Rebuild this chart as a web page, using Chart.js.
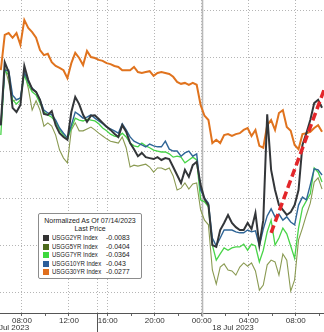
<!DOCTYPE html>
<html>
<head>
<meta charset="utf-8">
<script src="https://cdn.jsdelivr.net/npm/chart.js@4.4.0/dist/chart.umd.min.js"></script>
<style>
  html, body { margin:0; padding:0; background:#fff; overflow:hidden; }
  #wrap { position:relative; width:324px; height:332px; }
  #legend { position:absolute; left:38px; top:213px; width:102px; height:64px; border:1px solid #8c8c8c; border-radius:2px;
            background:#fff; font:7px "Liberation Sans", Arial, sans-serif; color:#222; }
  #legend .t { text-align:center; line-height:8px; white-space:nowrap; }
  #legend .row { position:relative; height:8.5px; line-height:8.5px; white-space:nowrap; }
  #legend .sw { position:absolute; left:4px; top:1px; width:6px; height:6px; }
  #legend .nm { position:absolute; left:13px; transform:scaleX(0.86); transform-origin:0 50%; }
  #legend .vl { position:absolute; left:67px; }
</style>
</head>
<body>
<div id="wrap">
  <canvas id="c" width="324" height="332"></canvas>
  <div id="legend"></div>
</div>
<script>
// yield change in bp, one sample every 20 min of trading time starting 06:12
const startHour = 6.2, stepHour = 1 / 3;

const names = ["USGG2YR Index", "USGG5YR Index", "USGG7YR Index", "USGG10YR Index", "USGG30YR Index"];
const lastPrice = ["-0.0083", "-0.0404", "-0.0364", "-0.043", "-0.0277"];
const legendTitle = ["Normalized As Of 07/14/2023", "Last Price"];

const usgg2 = [-4.3, 9.1, 7.0, -0.6, -1.5, 0, 8.3, 5.3, 3.4, 2.8,
  1.1, -1.9, -2.1, -1.3, -4.3, -6.0, -6.8, -7.4, -1.5, 1.7,
  0.2, -2.1, -3.6, -2.3, -2.2, -3.0, -3.8, -4.6, -5.3, -6.1,
  -6.8, -4.3, -5.7, -8.1, -9.4, -10.9, -10.2, -11.1, -11.3, -11.5,
  -11.1, -11.7, -11.3, -11.5, -13.2, -14.9, -16.6, -13.8, -15.3, -12.8,
  -12.1, -17.0, -20.0, -21.3, -29.8, -30.2, -26.6, -25.1, -23.4, -25.1,
  -26.0, -26.6, -26.6, -25.1, -26.4, -23.0, -29.8, -24.5, -2.0, -13.8,
  -18.1, -21.3, -22.3, -23.4, -22.8, -21.3, -18.1, -8.5, -6.0, -3.2,
  0.4, 1.1, -0.6];
const usgg5 = [-4.3, 8.1, 4.9, 0.9, 1.1, 1.5, 7.0, 3.6, -1.1, 0.9,
  -1.1, -4.5, -3.8, -4.5, -6.4, -9.6, -11.3, -12.3, -5.3, -3.8,
  -5.5, -5.5, -5.1, -4.7, -5.3, -6.0, -6.6, -7.2, -7.7, -7.9,
  -8.1, -6.8, -9.1, -13.2, -12.8, -13.0, -12.8, -12.6, -13.2, -14.3,
  -13.4, -13.4, -13.8, -13.4, -15.1, -18.1, -17.7, -16.6, -17.9, -16.8,
  -16.6, -22.3, -24.5, -25.5, -35.1, -38.1, -34.5, -33.8, -35.1, -35.3,
  -36.2, -34.5, -33.6, -34.3, -33.6, -35.3, -39.4, -38.3, -34.0, -33.0,
  -33.4, -36.2, -31.7, -33.0, -39.6, -37.2, -28.7, -26.2, -23.4, -20.9,
  -16.4, -15.5, -17.9];
const usgg7 = [-6.4, 7.4, 6.4, 1.1, 0.2, 1.1, 6.4, 4.3, 2.8, 2.1,
  0.4, -1.5, -2.1, -2.6, -3.6, -5.3, -6.4, -7.4, -4.9, -2.8,
  -3.2, -3.4, -3.0, -3.2, -3.4, -4.0, -4.9, -5.5, -6.2, -6.6,
  -6.8, -6.0, -6.8, -8.1, -8.7, -8.9, -8.1, -8.7, -9.1, -9.6,
  -9.8, -10.0, -10.0, -10.4, -11.1, -10.9, -11.1, -12.3, -11.7, -11.1,
  -11.7, -20.2, -20.6, -21.7, -29.8, -33.0, -31.7, -30.4, -30.9, -30.4,
  -30.2, -30.2, -29.6, -30.9, -29.6, -30.0, -33.4, -30.9, -27.0, -24.5,
  -29.8, -28.3, -26.2, -27.4, -30.0, -32.6, -26.2, -21.9, -20.4, -18.9,
  -13.4, -14.3, -16.4];
const usgg10 = [-4.3, 7.4, 7.4, 2.1, 1.1, 1.5, 7.0, 4.9, 3.6, 2.8,
  1.1, -1.1, -1.7, -2.1, -3.2, -4.9, -6.0, -7.0, -4.3, -1.5,
  -2.1, -2.8, -2.6, -2.1, -2.8, -3.4, -4.0, -4.7, -5.1, -5.5,
  -6.0, -4.0, -5.3, -6.8, -7.7, -8.1, -8.5, -8.9, -8.3, -8.7,
  -8.9, -8.9, -7.7, -9.4, -9.8, -9.8, -10.9, -10.2, -9.8, -10.9,
  -10.4, -18.1, -19.8, -20.9, -28.3, -30.0, -28.3, -26.6, -26.6, -26.6,
  -27.0, -27.2, -27.2, -26.6, -27.0, -26.8, -30.0, -26.4, -23.6, -22.1,
  -23.8, -23.2, -24.5, -23.8, -24.9, -25.5, -21.3, -19.6, -20.2, -17.0,
  -13.6, -13.8, -14.9];
const usgg30 = [7.4, 14.9, 15.3, 14.3, 15.3, 12.8, 18.1, 16.4, 15.5, 14.3,
  11.7, 10.6, 10.9, 9.1, 8.3, 7.9, 7.4, 5.7, 8.9, 11.1,
  10.0, 8.5, 11.5, 10.2, 10.0, 9.6, 9.4, 8.9, 8.7, 8.3,
  8.1, 7.4, 7.4, 7.4, 8.1, 7.0, 6.8, 7.0, 7.2, 6.2,
  6.8, 7.0, 6.8, 6.6, 6.0, 4.9, 4.5, 4.7, 4.3, 4.7,
  4.3, 0, -2.3, -3.2, -8.1, -7.4, -8.1, -6.4, -6.2, -6.6,
  -6.2, -6.0, -5.3, -4.9, -6.6, -5.3, -8.7, -9.1, -4.3, -3.2,
  -5.3, -1.7, -1.1, -4.7, -5.5, -8.5, -9.4, -6.2, -6.0, -5.7,
  -4.9, -4.3, -5.7];

// red dashed trend line (start, end)
const trendX = [29.2, 33.7];
const trendY = [-27.2, 3.2];

// x axis: trading hours (session gap after 14:24 squeezed out)
const majorTicks = [8, 12, 14.4, 15.3, 19.3, 23.3, 27.3, 31.3];
const majorLabels = ["08:00", "12:00", "", "16:00", "20:00", "00:00", "04:00", "08:00"];
const minorTicks = [10, 17.3, 21.3, 25.3, 29.3, 33.3];
const dayBreak = 23.3, sessionBreak = 14.4;
const dateLabels = ["17 Jul 2023", "18 Jul 2023"];
const dateLabelAt = [6.85, 25.95];
const yGrid = [-40, -30, -20, -10, 0, 10, 20];

const colors = ["#333639", "#8a9a52", "#48d448", "#2f6596", "#e0731e"];
const swatches = ["#333333", "#4d6b1c", "#3ed83e", "#2c5e9a", "#e06f1d"];

const pts = arr => arr.map((v, i) => ({ x: startHour + i * stepHour, y: v }));

const marks = {
  id: "marks",
  beforeDatasetsDraw(chart) {
    const { ctx, chartArea: a, scales: { x } } = chart;
    const px = Math.round(x.getPixelForValue(dayBreak)) + 0.5;
    ctx.save();
    ctx.strokeStyle = "#b9b9b9"; ctx.lineWidth = 1.6;
    ctx.beginPath(); ctx.moveTo(px, a.top); ctx.lineTo(px, a.bottom + 4); ctx.stroke();
    ctx.restore();
  },
  afterDraw(chart) {
    const { ctx, chartArea: a, scales: { x } } = chart;
    ctx.save();
    const sx = Math.round(x.getPixelForValue(sessionBreak)) + 0.5;
    ctx.strokeStyle = "#555"; ctx.lineWidth = 1;
    ctx.beginPath(); ctx.moveTo(sx, a.bottom); ctx.lineTo(sx, chart.height); ctx.stroke();
    ctx.fillStyle = "#333";
    ctx.font = '8px "Liberation Sans", Arial, sans-serif';
    ctx.textAlign = "center"; ctx.textBaseline = "middle";
    dateLabels.forEach((t, i) => ctx.fillText(t, x.getPixelForValue(dateLabelAt[i]), a.bottom + 14.5));
    ctx.restore();
  }
};

new Chart(document.getElementById("c").getContext("2d"), {
  type: "line",
  data: {
    datasets: [
      { data: trendX.map((v, i) => ({ x: v, y: trendY[i] })), borderColor: "#e3262a", borderWidth: 3.5, borderDash: [8, 4] },
      { data: pts(usgg2), borderColor: colors[0], borderWidth: 2 },
      { data: pts(usgg30), borderColor: colors[4], borderWidth: 2 },
      { data: pts(usgg10), borderColor: colors[3], borderWidth: 1.4 },
      { data: pts(usgg7), borderColor: colors[2], borderWidth: 1.3 },
      { data: pts(usgg5), borderColor: colors[1], borderWidth: 1.1 }
    ]
  },
  options: {
    responsive: false, animation: false, devicePixelRatio: 1,
    layout: { padding: 0 },
    elements: { point: { radius: 0 }, line: { tension: 0 } },
    plugins: { legend: { display: false }, tooltip: { enabled: false } },
    scales: {
      x: {
        type: "linear", min: 6.13, max: 33.7,
        afterBuildTicks: s => { s.ticks = majorTicks.concat(minorTicks).sort((a, b) => a - b).map(v => ({ value: v })); },
        afterFit: s => { s.height = 19; },
        ticks: {
          autoSkip: false, maxRotation: 0, padding: 0, color: "#333",
          font: { family: '"Liberation Sans", Arial, sans-serif', size: 8 },
          callback: v => { const i = majorTicks.indexOf(v); return i < 0 ? "" : majorLabels[i]; }
        },
        grid: {
          color: c => majorTicks.includes(c.tick && c.tick.value) ? "#b5b5b5" : "rgba(0,0,0,0)",
          tickColor: "#666", tickLength: 3, lineWidth: 1
        },
        border: { display: true, color: "#555", width: 1, dash: [1, 2] }
      },
      y: {
        min: -44.26, max: 22.34,
        afterBuildTicks: s => { s.ticks = yGrid.map(v => ({ value: v })); },
        afterFit: s => { s.width = 0; },
        ticks: { display: false },
        grid: { color: "#b5b5b5", drawTicks: false },
        border: { display: false, dash: [1, 2] }
      }
    }
  },
  plugins: [marks]
});

const lg = document.getElementById("legend");
lg.innerHTML = '<div style="height:3px"></div>' +
  legendTitle.map(t => '<div class="t">' + t + '</div>').join("") +
  '<div style="height:1px"></div>' +
  names.map((n, i) => '<div class="row"><span class="sw" style="background:' + swatches[i] + '"></span>' +
    '<span class="nm">' + n + '</span><span class="vl">' + lastPrice[i] + '</span></div>').join("");
</script>
</body>
</html>
